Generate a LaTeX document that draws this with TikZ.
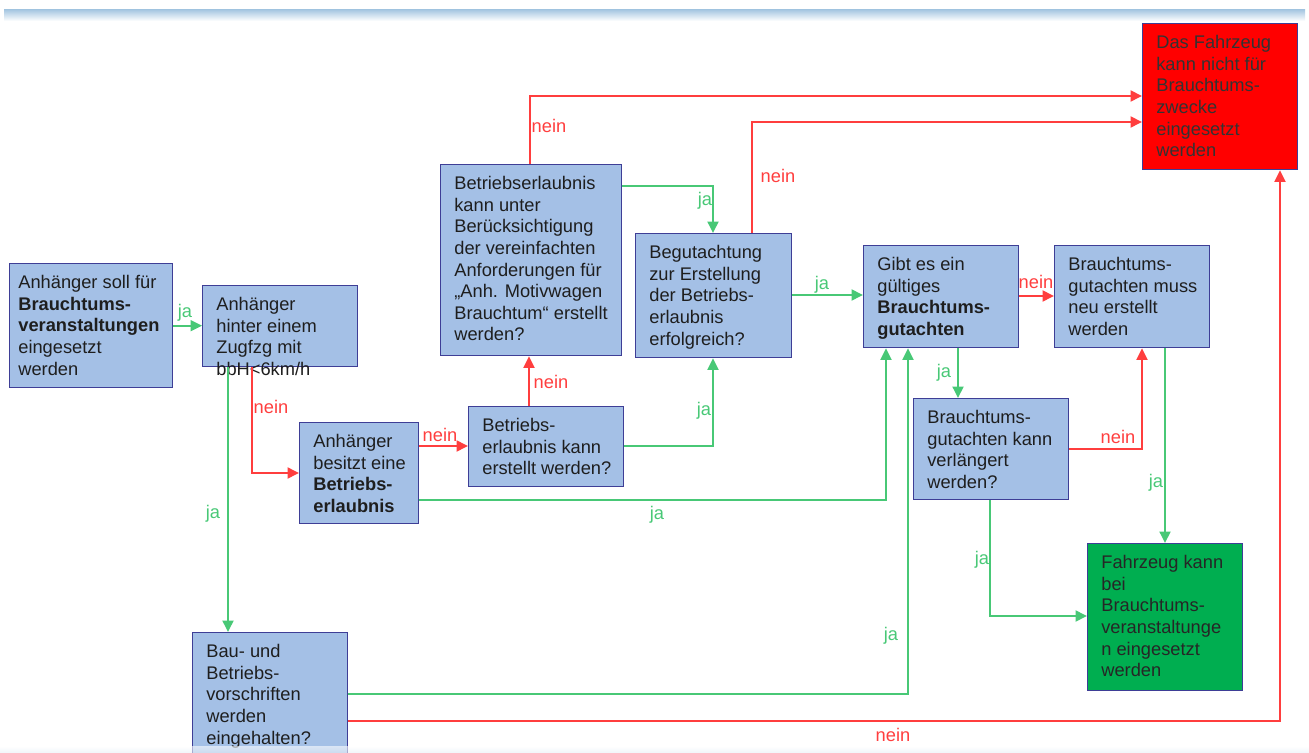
\documentclass[tikz,border=0pt]{standalone}
\usepackage{fontspec}
\setmainfont{Liberation Sans}
\usepackage{xcolor}
\usepackage{tikz}
\usetikzlibrary{arrows.meta}
\definecolor{boxblue}{RGB}{164,192,230}
\definecolor{boxline}{RGB}{62,62,150}
\definecolor{jagreen}{RGB}{72,200,118}
\definecolor{neinred}{RGB}{255,62,62}
\definecolor{stopred}{RGB}{255,0,0}
\definecolor{gogreen}{RGB}{0,174,80}
\definecolor{txtgray}{RGB}{30,30,30}
\definecolor{bandblue}{RGB}{168,200,226}
\tikzset{
	box/.style={draw=boxline, line width=0.8pt, fill=boxblue, anchor=north west, inner sep=0pt},
	txt/.style={anchor=north west, align=left, inner xsep=0.28cm, inner ysep=0.24cm,
		text=txtgray, font=\fontsize{10.4}{12.3}\selectfont},
	ja/.style={draw=jagreen, line width=1.1pt, -{Triangle[length=2.3mm,width=2.2mm]}},
	nein/.style={draw=neinred, line width=1.1pt, -{Triangle[length=2.3mm,width=2.2mm]}},
	jalab/.style={text=jagreen, inner sep=0pt, font=\fontsize{10.4}{12}\selectfont},
	neinlab/.style={text=neinred, inner sep=0pt, font=\fontsize{10.4}{12}\selectfont}
}

\begin{document}
\begin{tikzpicture}[x=0.02cm, y=-0.02cm]
		\useasboundingbox (0,0) rectangle (1309,753);
		\shade[top color=bandblue, bottom color=white] (4,10) rectangle (1305,21);

		% boxes
		\node[box, minimum width=3.26cm, minimum height=2.48cm] (b1) at (9,263) {};
		\node[txt, xshift=-0.1cm] (t1) at (b1.north west) {Anhänger soll für\\\textbf{Brauchtums-}\\\textbf{veranstaltungen}\\eingesetzt\\werden};

		\node[box, minimum width=3.10cm, minimum height=1.62cm] (b2) at (202,285) {};
		\node[txt] (t2) at (b2.north west) {Anhänger\\hinter einem\\Zugfzg mit\\bbH<6km/h};

		\node[box, minimum width=2.38cm, minimum height=2.02cm] (b3) at (299,422) {};
		\node[txt] (t3) at (b3.north west) {Anhänger\\besitzt eine\\\textbf{Betriebs-}\\\textbf{erlaubnis}};

		\node[box, minimum width=3.10cm, minimum height=1.60cm] (b4) at (468,406) {};
		\node[txt] (t4) at (b4.north west) {Betriebs-\\erlaubnis kann\\erstellt werden?};

		\node[box, minimum width=3.62cm, minimum height=3.82cm] (b5) at (440,164) {};
		\node[txt] (t5) at (b5.north west) {Betriebserlaubnis\\kann unter\\Berücksichtigung\\der vereinfachten\\Anforderungen für\\„Anh. Motivwagen\\Brauchtum“ erstellt\\werden?};

		\node[box, minimum width=3.12cm, minimum height=2.48cm] (b6) at (635,233) {};
		\node[txt] (t6) at (b6.north west) {Begutachtung\\zur Erstellung\\der Betriebs-\\erlaubnis\\erfolgreich?};

		\node[box, minimum width=3.10cm, minimum height=2.04cm] (b7) at (863,245) {};
		\node[txt] (t7) at (b7.north west) {Gibt es ein\\gültiges\\\textbf{Brauchtums-}\\\textbf{gutachten}};

		\node[box, minimum width=3.10cm, minimum height=2.04cm] (b8) at (1054,245) {};
		\node[txt] (t8) at (b8.north west) {Brauchtums-\\gutachten muss\\neu erstellt\\werden};

		\node[box, minimum width=3.10cm, minimum height=2.02cm] (b9) at (913,398) {};
		\node[txt] (t9) at (b9.north west) {Brauchtums-\\gutachten kann\\verlängert\\werden?};

		\node[box, fill=stopred, minimum width=3.10cm, minimum height=2.92cm] (b10) at (1142,23) {};
		\node[txt, text=black!80] (t10) at (b10.north west) {Das Fahrzeug\\kann nicht für\\Brauchtums-\\zwecke\\eingesetzt\\werden};

		\node[box, fill=gogreen, minimum width=3.10cm, minimum height=2.94cm] (b11) at (1087,543) {};
		\node[txt, text=black!85] (t11) at (b11.north west) {Fahrzeug kann\\bei\\Brauchtums-\\veranstaltunge\\n eingesetzt\\werden};

		\node[box, minimum width=3.10cm, minimum height=2.70cm] (b12) at (192,632) {};
		\node[txt] (t12) at (b12.north west) {Bau- und\\Betriebs-\\vorschriften\\werden\\eingehalten?};

		% arrows
		\draw[ja] (b1.east) -- (b2.west |- b1.east) node[jalab] at (185,313) {ja};
		\draw[ja] (228,0 |- b2.south) -- (228,0 |- b12.north) node[jalab] at (213,514) {ja};
		\draw[nein] (252,0 |- b2.south) |- (b3.west |- 0,473) node[neinlab] at (271,407) {nein};
		\draw[nein] (b3.east |- 0,446) -- (b4.west |- 0,446) node[neinlab] at (440,435) {nein};
		\draw[ja] (b3.east |- 0,500) -| (886,0 |- b7.south) node[jalab] at (657,515) {ja};
		\draw[ja] (b12.east |- 0,694) -| (908,0 |- b7.south) node[jalab] at (891,636) {ja};
		\draw[nein] (b12.east |- 0,721) -| (1280,0 |- b10.south) node[neinlab] at (893,735) {nein};

		\draw[nein] (529,0 |- b4.north) -- (529,0 |- b5.south) node[neinlab] at (551,382) {nein};
		\draw[ja] (b4.east |- 0,446) -| (713,0 |- b6.south) node[jalab] at (704,411) {ja};
		\draw[ja] (b5.east |- 0,186) -| (713,0 |- b6.north) node[jalab] at (705,201) {ja};
		\draw[nein] (530,0 |- b5.north) |- (b10.west |- 0,96) node[neinlab] at (549,126) {nein};
		\draw[nein] (752,0 |- b6.north) |- (b10.west |- 0,122) node[neinlab] at (778,176) {nein};
		\draw[ja] (b6.east |- 0,295) -- (b7.west |- 0,295) node[jalab] at (822,285) {ja};

		\draw[nein] (b7.east |- 0,296) -- (b8.west |- 0,296) node[neinlab] at (1036,282) {nein};
		\draw[ja] (958,0 |- b7.south) -- (958,0 |- b9.north) node[jalab] at (944,373) {ja};
		\draw[nein] (b9.east |- 0,449) -| (1142,0 |- b8.south) node[neinlab] at (1118,437) {nein};
		\draw[ja] (1165,0 |- b8.south) -- (1165,0 |- b11.north) node[jalab] at (1156,483) {ja};
		\draw[ja] (990,0 |- b9.south) |- (b11.west |- 0,616) node[jalab] at (982,560) {ja};

		\shade[top color=white, bottom color=bandblue!30, fill opacity=0.6] (0,746) rectangle (1309,753);
\end{tikzpicture}
\end{document}
